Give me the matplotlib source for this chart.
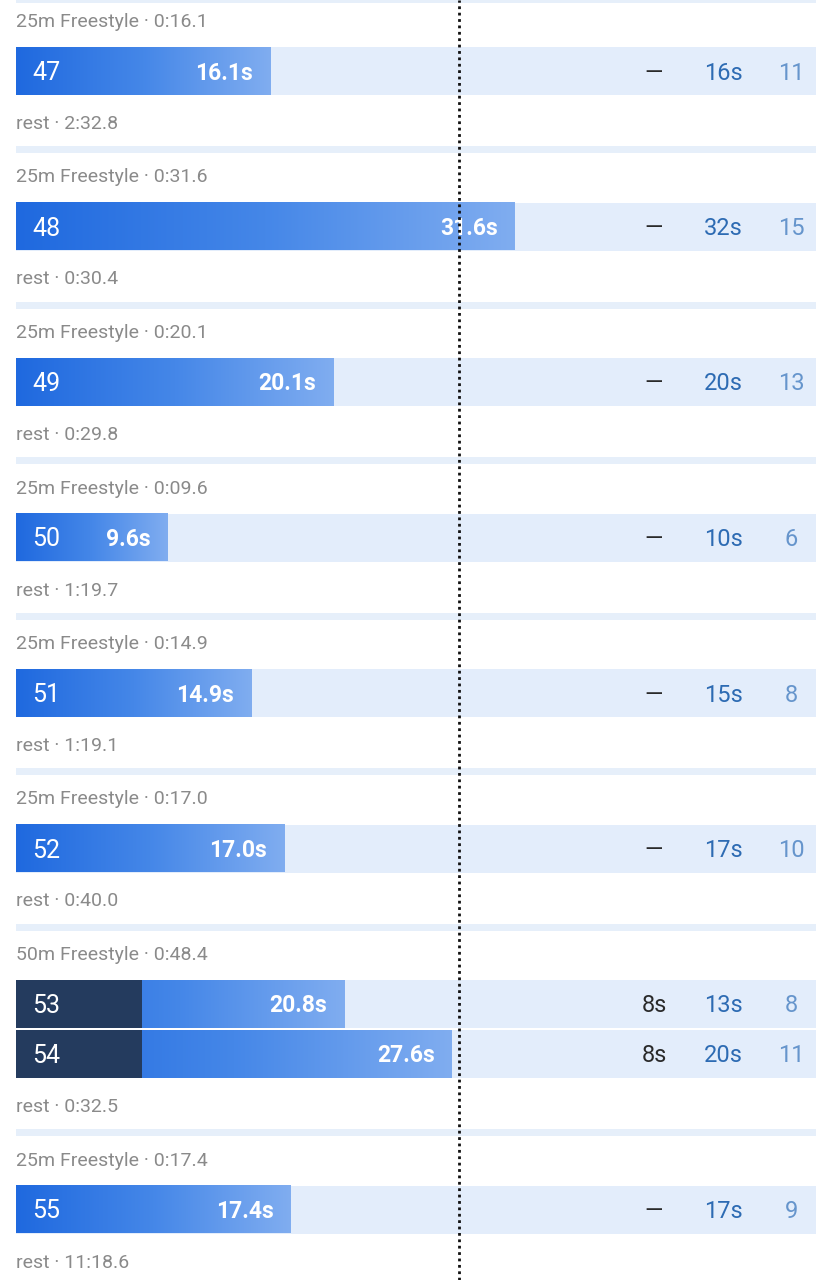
import numpy as np
import matplotlib
matplotlib.use("Agg")
import matplotlib.pyplot as plt
from matplotlib.colors import LinearSegmentedColormap

# --- data ---
group_titles = ["25m Freestyle · 0:16.1", "25m Freestyle · 0:31.6", "25m Freestyle · 0:20.1",
                "25m Freestyle · 0:09.6", "25m Freestyle · 0:14.9", "25m Freestyle · 0:17.0",
                "50m Freestyle · 0:48.4", "25m Freestyle · 0:17.4"]
group_rests = ["2:32.8", "0:30.4", "0:29.8", "1:19.7", "1:19.1", "0:40.0", "0:32.5", "11:18.6"]
group_sizes = [1, 1, 1, 1, 1, 1, 2, 1]

laps = [47, 48, 49, 50, 51, 52, 53, 54, 55]
lap_times = [16.1, 31.6, 20.1, 9.6, 14.9, 17.0, 20.8, 27.6, 17.4]
start_secs = [None, None, None, None, None, None, 8, 8, None]
swim_secs = [16, 32, 20, 10, 15, 17, 13, 20, 17]
strokes = [11, 15, 13, 6, 8, 10, 8, 11, 9]
ref_time = 28.1

# --- style ---
W, H = 833, 1280
PX_PER_S = 15.78
X0 = 16
band_col = "#E3EDFB"
sep_col = "#E6EFFA"
grey = "#8A8A8A"
navy = "#243B5E"
blue_grad = LinearSegmentedColormap.from_list("lap", ["#1F69DF", "#4587E8", "#80ADF0"])
plt.rcParams["font.family"] = ["Roboto", "DejaVu Sans"]

fig = plt.figure(figsize=(W / 100, H / 100), dpi=100)
ax = fig.add_axes([0, 0, 1, 1])
ax.axis("off")


def sec(px):
    return (px - X0) / PX_PER_S


xmin, xmax = sec(0), sec(W)
band_end = sec(816)

# separator left over from the previous block
ax.fill_between([0, band_end], -4, 3, color=sep_col, lw=0)

grad = np.linspace(0, 1, 256).reshape(1, -1)
y = 0.0
k = 0
for title, rest, n in zip(group_titles, group_rests, group_sizes):
    top = y + 47
    ax.text(0, top - 25, title, color=grey, fontsize=14, va="center", ha="left")
    for j in range(n):
        t0, t1 = top, top + 48
        ax.fill_between([0, band_end], t0, t1, color=band_col, lw=0, zorder=1)
        t = lap_times[k]
        ax.imshow(grad, cmap=blue_grad, extent=(0, t, t1, t0), aspect="auto",
                  interpolation="bilinear", zorder=2)
        if start_secs[k] is not None:
            ax.fill_between([0, start_secs[k]], t0, t1, color=navy, lw=0, zorder=3)
        ym = (t0 + t1) / 2 + 2
        ax.text(sec(32), ym, str(laps[k]), color="white", fontsize=18, va="center",
                ha="left", zorder=4)
        ax.text(t - 17 / PX_PER_S, ym, f"{t:.1f}s", color="white", fontsize=16.5,
                fontweight="bold", va="center", ha="right", zorder=4)
        first = "—" if start_secs[k] is None else f"{start_secs[k]}s"
        ax.text(sec(654), ym, first, color="#2A2A2A", fontsize=17, va="center",
                ha="center", zorder=4)
        ax.text(sec(723), ym, f"{swim_secs[k]}s", color="#2D6BB3", fontsize=17,
                va="center", ha="center", zorder=4)
        ax.text(sec(791), ym, str(strokes[k]), color="#6695CC", fontsize=17,
                va="center", ha="center", zorder=4)
        top = t1 + 2
        k += 1
    last_bottom = top - 2
    ax.text(0, last_bottom + 29, f"rest · {rest}", color=grey, fontsize=14,
            va="center", ha="left")
    ax.fill_between([0, band_end], last_bottom + 51, last_bottom + 58, color=sep_col,
                    lw=0)
    y = last_bottom + 60.5

ax.axvline(ref_time, color="#111111", lw=2, ls=(0, (1, 1.3)), zorder=6)

ax.set_xlim(xmin, xmax)
ax.set_ylim(H, 0)
fig.savefig("out.png", dpi=100, facecolor="white")
